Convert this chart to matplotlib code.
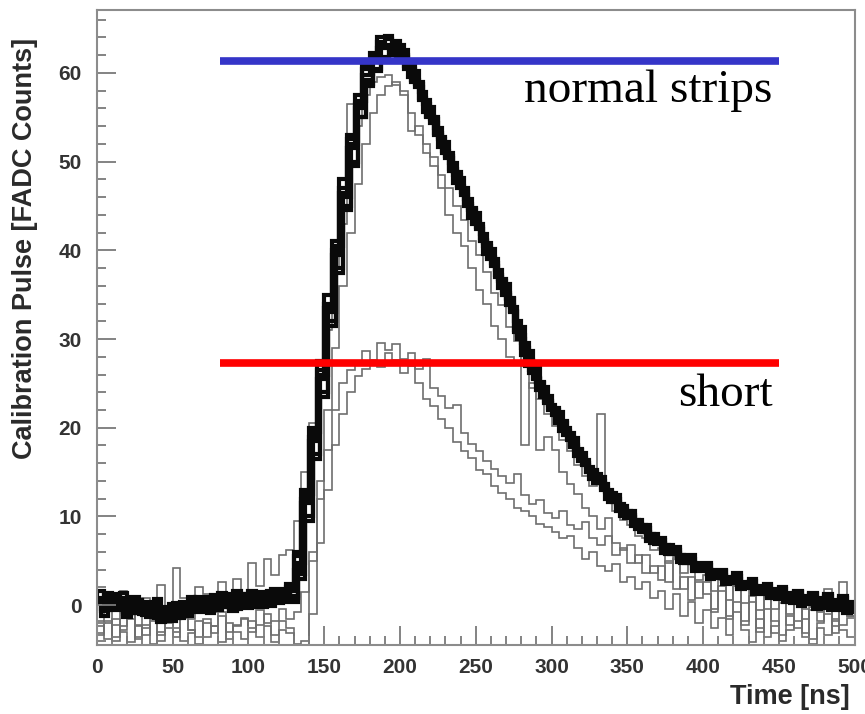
import numpy as np
import matplotlib
matplotlib.use("Agg")
import matplotlib.pyplot as plt
from matplotlib.ticker import MultipleLocator

# FADC samples, 5 ns bins starting at 0 ns
bin_width = 5
t_start, t_stop = 0, 500
phase_shift = 2.5  # some channels sampled half a bin earlier

# "normal strips" pulses (black band)
b1 = [0.8, -0.5, 1.2, 0.3, -0.9, 0.6, -1.1, 0.2, -1.5, -0.3,
      -1.4, 0.4, -0.8, 0.9, -0.6, 1.1, -0.2, 1.2, -0.4, 1.3,
      -0.2, 1.5, 0.1, 1.8, 0.3, 2.0, 5.5, 12, 19, 26.5,
      34, 40, 47, 52.5, 56.5, 60.5, 61.5, 63.5, 63.8, 63,
      62, 60.5, 59, 56.5, 55, 52.5, 51, 48.5, 47, 44.5,
      43, 40.5, 39, 36.5, 34.5, 31, 29, 26.5, 25, 23,
      22, 20.5, 19, 17.5, 16, 15, 14, 12.8, 12, 10.8,
      10.2, 9.2, 8.7, 7.6, 7.3, 6.4, 6.2, 5.3, 5.2, 4.4,
      4.5, 3.6, 3.8, 2.9, 3.3, 2.4, 2.7, 1.8, 2.1, 1.3,
      1.8, 0.9, 1.5, 0.6, 1.2, 0.4, 1.0, 0.2, 0.8, -0.2]
b2 = [-0.7, 0.9, -0.6, -0.8, 0.6, -1.0, 0.2, -1.4, -0.2, -1.8,
      -0.2, -1.2, 0.5, -0.8, 0.9, -0.6, 1.0, -0.5, 1.1, -0.3,
      1.2, -0.2, 1.6, 0.2, 1.8, 0.4, 3.5, 10, 17, 24,
      32, 38, 45, 50, 55, 58.5, 60.5, 61.5, 62, 61.8,
      60.5, 59, 57, 55, 53, 51, 49, 47, 45, 43,
      41, 39, 37, 35, 33, 30, 27, 25.5, 23.5, 22,
      20.5, 19.2, 17.8, 16.2, 15, 13.8, 13, 11.6, 10.6, 9.8,
      8.9, 8.3, 7.2, 6.9, 5.9, 5.8, 4.9, 4.7, 3.9, 3.8,
      3.0, 3.1, 2.4, 2.6, 1.8, 1.9, 1.2, 1.3, 0.8, 0.7,
      0.3, 0.2, -0.1, 0.1, -0.4, -0.3, -0.6, -0.5, -0.9, -0.8]
b3 = [0.3, 1.4, -0.4, 0.8, 0.2, 0.6, -0.6, 0.4, -0.5, -1.2,
      -0.9, 0.2, 0.3, -0.4, 0.6, 0.8, -0.2, 0.9, 0.5, 0.2,
      0.9, 0.4, 1.4, 1.2, 0.8, 2.4, 4.0, 11.5, 18.5, 25.5,
      33.5, 39.5, 46.5, 51.5, 56, 59.8, 61.2, 62.8, 63.2, 62.4,
      61.8, 59.6, 58.4, 55.6, 54.4, 51.6, 50.4, 47.6, 46.2, 43.6,
      42.4, 39.6, 38.2, 35.8, 33.8, 30.8, 28.2, 26.2, 24.2, 22.8,
      21.4, 19.6, 18.6, 16.8, 15.8, 14.2, 13.8, 12.0, 11.6, 10.0,
      9.9, 8.6, 8.3, 7.0, 7.0, 5.8, 5.9, 4.8, 4.9, 4.0,
      4.1, 3.2, 3.4, 2.5, 2.9, 2.0, 2.3, 1.4, 1.7, 1.0,
      1.4, 0.5, 1.1, 0.2, 0.8, 0.0, 0.6, -0.2, 0.4, -0.4]
b4 = [-1.2, -0.3, 0.7, -1.0, -0.8, 0.3, -1.3, -1.0, -0.4, -0.5,
      -1.5, -0.9, -0.7, 0.5, -0.5, -0.1, 0.8, -0.3, 0.0, 1.0,
      0.1, 1.0, 0.3, 0.5, 1.5, 0.8, 3.0, 9.5, 16.5, 23.5,
      31.5, 37.5, 44.5, 49.5, 55, 58.8, 60.2, 61.8, 62.4, 61.6,
      60.8, 59.2, 57.2, 55.2, 53.2, 51.2, 49.2, 47.2, 45.2, 43.2,
      41.2, 39.2, 37.2, 35.2, 33.2, 30.4, 27.6, 25.6, 23.6, 22.2,
      20.8, 19.6, 18.0, 16.6, 15.0, 14.2, 13.2, 12.0, 11.0, 10.2,
      9.2, 8.6, 7.6, 7.0, 6.3, 5.9, 5.2, 4.9, 4.2, 4.1,
      3.4, 3.3, 2.7, 2.7, 2.0, 2.2, 1.5, 1.5, 1.0, 1.1,
      0.6, 0.6, 0.2, 0.4, -0.1, 0.2, -0.3, 0.0, -0.6, -0.2]
b5 = [1.6, 0.6, -0.2, 1.4, -0.3, -0.9, 0.2, -0.3, -1.9, -0.6,
      0.2, -0.6, 0.9, 0.4, 0.8, 0.5, 1.4, 0.6, 1.6, 0.7,
      1.6, 0.8, 1.0, 1.5, 0.6, 1.6, 6.0, 13, 20, 27.5,
      35, 41, 48, 53, 57.5, 60.8, 62.2, 64, 64.2, 63.6,
      62.6, 61, 58.8, 57, 54.8, 52.8, 50.6, 48.8, 46.6, 44.8,
      42.6, 40.8, 38.6, 36.8, 34.6, 32, 29.6, 27.2, 25.2, 23.6,
      22.2, 20.8, 19.4, 17.6, 16.4, 15.2, 14.4, 13.0, 12.4, 11.2,
      10.6, 9.6, 9.0, 8.0, 7.6, 6.8, 6.6, 5.6, 5.6, 4.8,
      4.8, 4.0, 4.0, 3.2, 3.6, 2.6, 3.0, 2.2, 2.4, 1.8,
      2.0, 1.4, 1.6, 1.0, 1.4, 0.8, 1.2, 0.6, 1.0, 0.4]
b6 = [-0.4, 1.1, 0.5, -1.3, 0.9, -0.2, -0.9, 0.7, -1.1, 0.1,
      -1.0, -0.3, 0.6, 0.2, -0.9, 0.9, 0.3, -0.7, 1.3, 0.4,
      0.6, 1.2, -0.1, 1.1, 1.2, 1.0, 4.8, 12.5, 19.5, 26,
      33, 40.5, 46, 52, 56.8, 59.2, 62, 63, 62.6, 63.2,
      61.2, 60.2, 57.8, 56.2, 53.8, 52.2, 49.8, 48.2, 45.8, 44.2,
      41.8, 40.2, 37.8, 36.2, 33.6, 31.4, 28.6, 26.8, 24.6, 22.6,
      21.8, 20.0, 18.8, 17.2, 15.6, 14.8, 13.6, 12.6, 11.4, 10.6,
      9.6, 9.0, 8.0, 7.4, 6.8, 6.2, 5.6, 5.2, 4.6, 4.4,
      3.8, 3.6, 3.1, 3.0, 2.5, 2.4, 1.9, 1.8, 1.4, 1.5,
      1.0, 1.1, 0.6, 0.8, 0.3, 0.6, 0.0, 0.4, -0.3, 0.2]

# normal strips drawn in grey (slightly off the band)
g1 = [-1.8, 0.5, -2.2, 1.6, -0.9, -2.4, 0.8, -1.2, 2.3, -0.5,
      4.2, 0.8, -1.6, 2.0, 1.2, -0.8, 2.6, 1.4, 3.0, 0.6,
      4.8, 2.2, 5.2, 3.4, 5.6, 6.2, 9.5, 15, 20.5, 27,
      31, 38, 43, 56.5, 54, 57.5, 59, 59.5, 59.8, 58.6,
      58, 55.5, 53, 51, 49.5, 47, 44, 42, 40.5, 38,
      35.5, 34, 31.5, 30, 28, 27.5, 18, 25, 17.5, 19,
      17.5, 15, 13.7, 12.5, 11, 10, 8.6, 9.8, 7, 6.2,
      6.8, 4.8, 5.6, 3.6, 4.4, 2.6, 5.2, 1.8, 3.2, 0.8,
      2.6, -0.4, 1.6, -1.2, 2.2, -1.8, 0.4, -2.6, 1.0, -3.2,
      0.2, -2.2, 1.4, -3.6, -0.6, -1.8, 1.8, -2.4, 2.6, -1.2]
g2 = [-3.2, -1.8, -3.6, -2.4, -1.0, -3.8, -2.6, -1.6, -3.4, -2.0,
      -3.0, -1.2, -2.8, -3.6, -1.6, -2.4, -0.8, -3.0, -2.2, -1.4,
      -2.6, -0.6, -2.0, -1.8, -0.4, -1.6, -0.8, 1.5, 6, 14,
      22, 29, 36, 42, 47.5, 52, 55.5, 57.5, 58.5, 59,
      57.5, 53.5, 54, 52, 50.5, 48.5, 47, 45, 43.4, 41,
      39.5, 37.6, 35.2, 33.8, 31.4, 29.8, 27, 24.5, 23.2, 21.6,
      20.2, 18.6, 17.4, 15.8, 14.6, 13.4, 21.5, 12.0, 10.6, 9.6,
      9.0, 7.8, 7.6, 6.2, 6.4, 4.8, 5.4, 3.6, 4.6, 2.8,
      3.4, 1.6, 2.8, 0.6, 2.4, 0.2, 1.8, -0.6, 1.4, -0.4,
      0.6, -1.0, 0.2, -1.6, -0.2, -0.8, 1.0, -1.8, 0.4, -1.2]

# "short" strips
s1 = [-2.4, -3.8, -1.6, -3.0, -4.2, -2.2, -3.4, -1.8, -4.0, -2.6,
      -3.6, -1.4, -2.8, -4.4, -2.0, -3.2, -1.2, -3.8, -2.4, -1.6,
      -3.0, -2.2, -1.0, -3.4, -1.8, -2.6, -4.4, -4.0, 5.0, 12,
      17.5, 22, 25, 26.5, 27.2, 28.6, 27.4, 29.6, 28.8, 29.4,
      27.8, 28.4, 26.6, 27.8, 24.5, 23.6, 22.2, 22.6, 19.4, 18.2,
      17.4, 16.2, 15.4, 14.6, 13.8, 14.8, 12.4, 11.4, 11.8, 10.4,
      9.8, 10.6, 9.0, 8.6, 9.4, 7.6, 6.8, 7.8, 5.6, 6.4,
      4.8, 5.6, 3.6, 4.4, 2.8, 5.0, 1.8, 3.2, 0.6, 2.6,
      1.2, -0.8, 2.2, -1.6, 0.4, -2.2, 1.0, -3.0, -0.4, -1.8,
      -3.4, -1.2, -2.6, -0.4, -3.8, -2.0, -1.0, -3.2, -2.2, -1.4]
s2 = [-3.4, -2.0, -4.0, -2.8, -1.6, -3.6, -2.2, -4.4, -3.0, -1.8,
      -2.6, -4.0, -3.2, -1.8, -3.6, -2.4, -4.2, -2.0, -3.0, -3.8,
      -1.8, -3.6, -2.4, -4.2, -2.8, -3.2, -4.6, -4.6, -1.0, 7.0,
      13, 18, 21.5, 24, 25.8, 26.6, 27.6, 26.8, 28.4, 27.6,
      26.2, 27.0, 25.0, 23.2, 22.4, 21.0, 20.0, 18.4, 17.4, 16.6,
      15.2, 14.8, 13.4, 12.6, 12.0, 11.0, 10.6, 10.0, 9.2, 8.8,
      8.2, 7.6, 7.8, 6.4, 5.2, 6.0, 4.4, 3.8, 4.6, 2.6,
      3.2, 1.8, 2.6, 0.8, 1.6, -0.4, 1.2, -1.2, 0.4, -2.0,
      -0.6, -2.6, -1.4, -3.4, -0.8, -2.8, -4.2, -1.6, -3.6, -2.4,
      -4.0, -2.8, -1.8, -3.2, -4.4, -2.6, -3.4, -1.6, -2.8, -3.6]

normal_level = 61.4
short_level = 27.3
marker_span = (81, 450)

edges = np.arange(t_start, t_stop + bin_width, bin_width)
edges_shifted = edges + phase_shift

fig = plt.figure(figsize=(8.65, 7.14), dpi=100)
ax = fig.add_axes([0.112, 0.0966, 0.876, 0.8894])

for vals in [g1, g2, s1, s2]:
    ax.stairs(vals, edges, color="#6e6e6e", lw=1.2)
for vals in [b1, b3, b5]:
    ax.stairs(vals, edges, color="#0a0a0a", lw=3.0)
for vals in [b2, b4, b6]:
    ax.stairs(vals, edges_shifted, color="#0a0a0a", lw=3.0)

ax.hlines(normal_level, *marker_span, color="#3535c8", lw=5.5, zorder=5)
ax.hlines(short_level, *marker_span, color="#ff0000", lw=5.5, zorder=5)

ax.text(446, 56.7, "normal strips", family="Liberation Serif", fontsize=34,
        ha="right", va="baseline")
ax.text(446, 22.5, "short", family="Liberation Serif", fontsize=34,
        ha="right", va="baseline")

ax.set_xlim(0, 500)
ax.set_ylim(-4.5, 67.1)
ax.xaxis.set_major_locator(MultipleLocator(50))
ax.xaxis.set_minor_locator(MultipleLocator(10))
ax.yaxis.set_major_locator(MultipleLocator(10))
ax.yaxis.set_minor_locator(MultipleLocator(2))
ax.tick_params(which="both", direction="in", color="#7a7a7a", width=1.3,
               top=False, right=False)
ax.tick_params(which="major", length=14)
ax.tick_params(which="minor", length=6.5)
ax.tick_params(axis="y", pad=11)
ax.tick_params(axis="x", pad=9)
for lab in ax.get_xticklabels() + ax.get_yticklabels():
    lab.set_family("Liberation Sans")
    lab.set_fontweight("bold")
    lab.set_fontsize(15)
    lab.set_color("#333333")
for sp in ax.spines.values():
    sp.set_color("#8c8c8c")
    sp.set_linewidth(1.5)

ax.text(-0.095, 0.956, "Calibration Pulse [FADC Counts]", transform=ax.transAxes,
        rotation=90, ha="center", va="top", family="Liberation Sans",
        fontweight="bold", fontsize=19.5, color="#2a2a2a")
ax.text(0.993, -0.082, "Time [ns]", transform=ax.transAxes, ha="right",
        va="center", family="Liberation Sans", fontweight="bold", fontsize=19.5,
        color="#2a2a2a")

fig.savefig("out.png", dpi=100)
